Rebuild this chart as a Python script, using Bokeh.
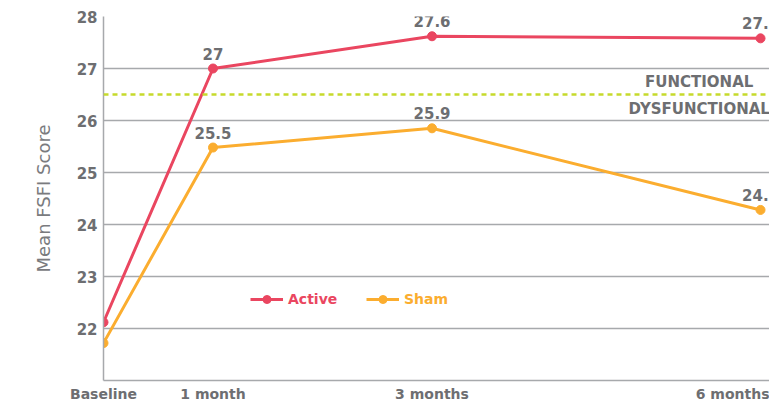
from bokeh.plotting import figure
from bokeh.models import ColumnDataSource, FixedTicker, Legend, LegendItem, Span, Label, Range1d
from bokeh.core.properties import value
from bokeh.embed import file_html
from bokeh.resources import INLINE

# Data
months = [0, 1, 3, 6]
tick_labels = ["Baseline", "1 month", "3 months", "6 months"]
active = [22.12, 27.0, 27.62, 27.58]
active_labels = ["", "27", "27.6", "27.5"]
sham = [21.72, 25.48, 25.85, 24.28]
sham_labels = ["", "25.5", "25.9", "24.3"]
threshold = 26.5
y_ticks = [22, 23, 24, 25, 26, 27, 28]

RED = "#ea4660"
ORANGE = "#fbad2f"
GREEN = "#c6da2c"
GRAY = "#6d6e71"
GRID = "#a7a9ac"
FONT = "DejaVu Sans"

p = figure(width=769, height=404, output_backend="svg", toolbar_location=None,
           x_range=Range1d(0, 6.082), y_range=Range1d(21, 28),
           min_border_left=103, min_border_right=0, min_border_top=16, min_border_bottom=24)
p.outline_line_color = None
p.background_fill_color = "white"

# Axes
p.xaxis.ticker = FixedTicker(ticks=months)
p.xaxis.major_label_overrides = {m: t for m, t in zip(months, tick_labels)}
p.yaxis.ticker = FixedTicker(ticks=y_ticks)
for ax in (p.xaxis[0], p.yaxis[0]):
    ax.axis_line_color = GRID
    ax.axis_line_width = 1.5
    ax.major_tick_line_color = None
    ax.minor_tick_line_color = None
    ax.major_tick_out = 0
    ax.major_label_text_font = FONT
    ax.major_label_text_font_style = "bold"
    ax.major_label_text_color = GRAY
p.xaxis.major_label_text_font_size = "14px"
p.xaxis.major_label_standoff = 5
p.yaxis.major_label_text_font_size = "15px"
p.yaxis.major_label_standoff = 6
p.yaxis.axis_label = "Mean FSFI Score"
p.yaxis.axis_label_text_font = FONT
p.yaxis.axis_label_text_font_style = "normal"
p.yaxis.axis_label_text_font_size = "18px"
p.yaxis.axis_label_text_color = "#7a7b7e"
p.yaxis.axis_label_standoff = 20

p.xgrid.grid_line_color = None
p.ygrid.grid_line_color = GRID
p.ygrid.grid_line_width = 1.5

# Threshold line
p.add_layout(Span(location=threshold, dimension="width", line_color=GREEN,
                  line_width=2.5, line_dash="5 4"))
p.add_layout(Label(x=5.44, y=threshold, y_offset=4, text="FUNCTIONAL", text_align="center",
                   text_baseline="bottom", text_font=FONT, text_font_style="bold",
                   text_font_size="15px", text_color=GRAY))
p.add_layout(Label(x=5.44, y=threshold, y_offset=-5, text="DYSFUNCTIONAL", text_align="center",
                   text_baseline="top", text_font=FONT, text_font_style="bold",
                   text_font_size="15px", text_color=GRAY))

# Series
src_a = ColumnDataSource(dict(x=months, y=active, lab=active_labels))
src_s = ColumnDataSource(dict(x=months, y=sham, lab=sham_labels))

la = p.line("x", "y", source=src_a, line_color=RED, line_width=3)
ma = p.scatter("x", "y", source=src_a, size=9, fill_color=RED, line_color=RED)
ls = p.line("x", "y", source=src_s, line_color=ORANGE, line_width=3)
ms = p.scatter("x", "y", source=src_s, size=9, fill_color=ORANGE, line_color=ORANGE)

for src in (src_a, src_s):
    p.text("x", "y", text="lab", source=src, text_align="center", text_baseline="bottom",
           y_offset=-9, text_font=value(FONT), text_font_style="bold",
           text_font_size="15px", text_color=GRAY)

# Legends (one per series so each label takes its series colour)
for renderers, name, color, xloc in (([la, ma], "Active", RED, 147), ([ls, ms], "Sham", ORANGE, 263)):
    leg = Legend(items=[LegendItem(label=name, renderers=renderers)],
                 location=(xloc, 71), orientation="horizontal",
                 padding=0, margin=0, spacing=0, border_line_color=None,
                 background_fill_alpha=0, glyph_width=33, glyph_height=20,
                 label_standoff=5, label_text_font=FONT, label_text_font_style="bold",
                 label_text_font_size="14px", label_text_color=color)
    p.add_layout(leg)

open("out.html", "w").write(file_html(p, INLINE))
